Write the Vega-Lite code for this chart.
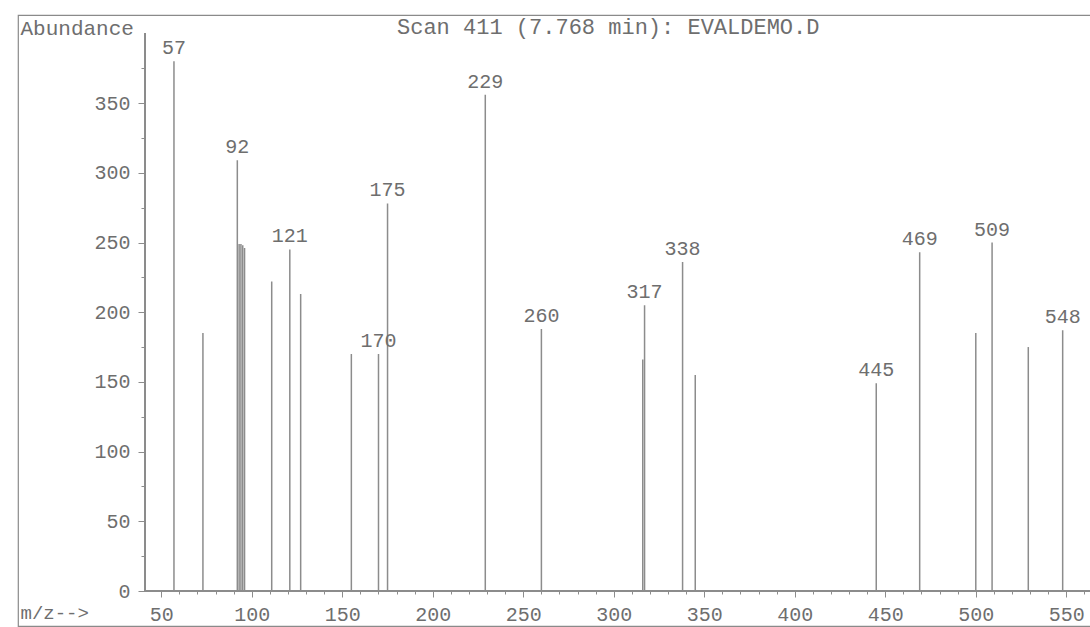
{
  "$schema": "https://vega.github.io/schema/vega-lite/v6.json",
  "width": 1077,
  "height": 611,
  "autosize": {"type": "none"},
  "padding": {"left": 18, "top": 15, "right": 0, "bottom": 1},
  "background": "white",
  "config": {
    "view": {"stroke": "#8a8a8a", "strokeWidth": 1.2},
    "font": "Liberation Mono"
  },
  "title": {
    "text": "Scan 411 (7.768 min): EVALDEMO.D",
    "anchor": "start",
    "frame": "group",
    "dx": 379,
    "offset": -34,
    "baseline": "middle",
    "font": "Liberation Mono",
    "fontSize": 22,
    "fontWeight": "normal",
    "color": "#6e6e6e"
  },
  "resolve": {"axis": {"x": "independent", "y": "independent"}},
  "data": {
    "values": [
      {"mz": 57, "abundance": 380, "label": "57"},
      {"mz": 73, "abundance": 185, "label": ""},
      {"mz": 92, "abundance": 309, "label": "92"},
      {"mz": 93, "abundance": 249, "label": ""},
      {"mz": 94, "abundance": 249, "label": ""},
      {"mz": 95, "abundance": 248, "label": ""},
      {"mz": 96, "abundance": 246, "label": ""},
      {"mz": 111, "abundance": 222, "label": ""},
      {"mz": 121, "abundance": 245, "label": "121"},
      {"mz": 127, "abundance": 213, "label": ""},
      {"mz": 155, "abundance": 170, "label": ""},
      {"mz": 170, "abundance": 170, "label": "170"},
      {"mz": 175, "abundance": 278, "label": "175"},
      {"mz": 229, "abundance": 356, "label": "229"},
      {"mz": 260, "abundance": 188, "label": "260"},
      {"mz": 316, "abundance": 166, "label": ""},
      {"mz": 317, "abundance": 205, "label": "317"},
      {"mz": 338, "abundance": 236, "label": "338"},
      {"mz": 345, "abundance": 155, "label": ""},
      {"mz": 445, "abundance": 149, "label": "445"},
      {"mz": 469, "abundance": 243, "label": "469"},
      {"mz": 500, "abundance": 185, "label": ""},
      {"mz": 509, "abundance": 250, "label": "509"},
      {"mz": 529, "abundance": 175, "label": ""},
      {"mz": 548, "abundance": 187, "label": "548"}
    ]
  },
  "layer": [
    {
      "mark": {"type": "rule", "color": "#8c8c8c", "strokeWidth": 1.5},
      "encoding": {
        "x": {
          "field": "mz",
          "type": "quantitative",
          "scale": {"domain": [-29.17, 565.86], "nice": false, "zero": false},
          "axis": {
            "orient": "bottom",
            "offset": -35,
            "values": [50, 100, 150, 200, 250, 300, 350, 400, 450, 500, 550],
            "tickSize": 6,
            "labelOverlap": false,
            "labelPadding": 7,
            "labelFont": "Liberation Mono",
            "labelFontSize": 20,
            "labelColor": "#6e6e6e",
            "tickColor": "#8c8c8c",
            "domain": false,
            "grid": false,
            "title": "m/z-->",
            "titleX": 2,
            "titleY": 21,
            "titleAlign": "left",
            "titleBaseline": "middle",
            "titleFont": "Liberation Mono",
            "titleFontSize": 19,
            "titleFontWeight": "normal",
            "titleColor": "#6e6e6e"
          }
        },
        "y": {
          "field": "abundance",
          "type": "quantitative",
          "scale": {"domain": [-25.1, 413.2], "nice": false, "zero": false},
          "axis": {
            "orient": "left",
            "offset": -127,
            "values": [0, 50, 100, 150, 200, 250, 300, 350],
            "tickSize": 7,
            "labelOverlap": false,
            "labelPadding": 8,
            "labelFont": "Liberation Mono",
            "labelFontSize": 20,
            "labelColor": "#6e6e6e",
            "tickColor": "#8c8c8c",
            "domain": false,
            "grid": false,
            "title": "Abundance",
            "titleAngle": 0,
            "titleX": -125,
            "titleY": 13,
            "titleAlign": "left",
            "titleBaseline": "middle",
            "titleFont": "Liberation Mono",
            "titleFontSize": 21,
            "titleFontWeight": "normal",
            "titleColor": "#6e6e6e"
          }
        },
        "y2": {"datum": 0}
      }
    },
    {
      "transform": [{"filter": "datum.label != ''"}],
      "mark": {"type": "text", "dy": -13, "baseline": "middle", "align": "center", "font": "Liberation Mono", "fontSize": 20, "color": "#6e6e6e"},
      "encoding": {
        "x": {"field": "mz", "type": "quantitative", "axis": null},
        "y": {"field": "abundance", "type": "quantitative", "axis": null},
        "text": {"field": "label"}
      }
    },
    {
      "mark": {"type": "rule", "color": "#8c8c8c", "strokeWidth": 1.2},
      "encoding": {
        "x": {"datum": 41, "type": "quantitative", "axis": null},
        "y": {
          "datum": 0,
          "type": "quantitative",
          "axis": {
            "orient": "left",
            "offset": -127,
            "values": [25, 75, 125, 175, 225, 275, 325, 375],
            "tickSize": 4,
            "labels": false,
            "tickColor": "#8c8c8c",
            "domain": false,
            "grid": false,
            "title": null
          }
        },
        "y2": {"datum": 400}
      }
    },
    {
      "mark": {"type": "rule", "color": "#8c8c8c", "strokeWidth": 1.2},
      "encoding": {
        "y": {"datum": 0, "type": "quantitative", "axis": null},
        "x": {
          "datum": 41,
          "type": "quantitative",
          "axis": {
            "orient": "bottom",
            "offset": -35,
            "values": [60, 70, 80, 90, 110, 120, 130, 140, 160, 170, 180, 190, 210, 220, 230, 240, 260, 270, 280, 290, 310, 320, 330, 340, 360, 370, 380, 390, 410, 420, 430, 440, 460, 470, 480, 490, 510, 520, 530, 540, 560],
            "tickSize": 3,
            "labels": false,
            "tickColor": "#8c8c8c",
            "domain": false,
            "grid": false,
            "title": null
          }
        },
        "x2": {"datum": 566}
      }
    }
  ]
}
